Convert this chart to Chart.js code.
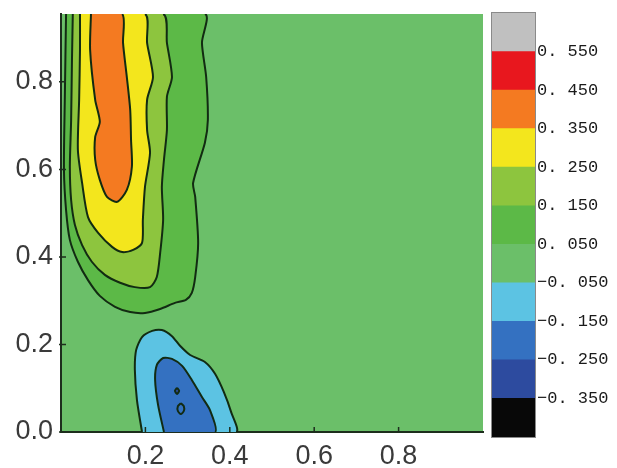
<!DOCTYPE html>
<html lang="en">
<head>
    <meta charset="UTF-8">
    <title>Contour map</title>
    <script src="https://cdn.jsdelivr.net/npm/chart.js"></script>
    <style>
        body { margin: 0; background: #fff; }
        #wrap { position: relative; width: 617px; height: 468px; }
        #mapChart { position: absolute; left: 0; top: 0; }
        #barChart { position: absolute; left: 488px; top: 0; }
    </style>
</head>
<body>
    <div id="wrap">
        <canvas id="mapChart" width="617" height="468"></canvas>
        <canvas id="barChart" width="129" height="468"></canvas>
    </div>

    <script>
        // Contour levels and the colour of each band (lowest band first)
        var levels = [-0.35, -0.25, -0.15, -0.05, 0.05, 0.15, 0.25, 0.35, 0.45, 0.55];
        var bandColors = ['#080808', '#2d4b9f', '#3471c1', '#5cc3e3', '#6bbf69', '#5cb947',
                          '#8dc53e', '#f3e61d', '#f47a21', '#e8171e', '#c0c0c0'];
        var xTicks = [0.2, 0.4, 0.6, 0.8];
        var yTicks = [0.0, 0.2, 0.4, 0.6, 0.8];

        // Closed contour lines, [x, y]
        var c005 = [[0.012, 0.955], [0.341, 0.955], [0.334, 0.889], [0.344, 0.811], [0.348, 0.713],
                    [0.341, 0.661], [0.313, 0.569], [0.318, 0.537], [0.325, 0.432], [0.318, 0.354],
                    [0.310, 0.318], [0.296, 0.302], [0.270, 0.295], [0.235, 0.281], [0.199, 0.272],
                    [0.164, 0.274], [0.128, 0.286], [0.092, 0.311], [0.064, 0.347], [0.040, 0.389],
                    [0.021, 0.439], [0.012, 0.507], [0.007, 0.599], [0.009, 0.759]];
        var c015 = [[0.028, 0.955], [0.242, 0.955], [0.251, 0.889], [0.263, 0.811], [0.251, 0.766],
                    [0.251, 0.690], [0.244, 0.622], [0.239, 0.560], [0.242, 0.485], [0.235, 0.409],
                    [0.227, 0.354], [0.211, 0.331], [0.175, 0.331], [0.140, 0.341], [0.104, 0.359],
                    [0.073, 0.389], [0.050, 0.427], [0.033, 0.473], [0.024, 0.530], [0.021, 0.606],
                    [0.024, 0.713], [0.026, 0.850]];
        var c025 = [[0.045, 0.955], [0.199, 0.955], [0.204, 0.889], [0.218, 0.811], [0.204, 0.759],
                    [0.204, 0.690], [0.211, 0.638], [0.199, 0.560], [0.194, 0.485], [0.192, 0.432],
                    [0.171, 0.416], [0.145, 0.411], [0.121, 0.423], [0.088, 0.455], [0.064, 0.491],
                    [0.050, 0.569], [0.040, 0.645], [0.043, 0.759], [0.045, 0.873]];
        var c035 = [[0.071, 0.955], [0.145, 0.955], [0.147, 0.889], [0.156, 0.811], [0.164, 0.736],
                    [0.166, 0.667], [0.168, 0.606], [0.156, 0.553], [0.133, 0.526], [0.109, 0.537],
                    [0.092, 0.576], [0.081, 0.622], [0.081, 0.674], [0.092, 0.709], [0.081, 0.759],
                    [0.069, 0.873]];
        var cm005 = [[0.192, 0.000], [0.180, 0.073], [0.175, 0.142], [0.178, 0.187], [0.192, 0.217],
                     [0.216, 0.231], [0.239, 0.233], [0.263, 0.219], [0.282, 0.197], [0.306, 0.176],
                     [0.341, 0.160], [0.365, 0.133], [0.386, 0.091], [0.403, 0.046], [0.415, 0.000]];
        var cm015 = [[0.244, 0.000], [0.230, 0.062], [0.223, 0.119], [0.227, 0.153], [0.242, 0.169],
                     [0.263, 0.167], [0.287, 0.151], [0.310, 0.119], [0.334, 0.080], [0.353, 0.050],
                     [0.365, 0.000]];
        var cm025a = [[0.275, 0.101], [0.280, 0.094], [0.275, 0.087], [0.270, 0.094]];
        var cm025b = [[0.284, 0.066], [0.291, 0.059], [0.291, 0.048], [0.284, 0.041], [0.277, 0.048],
                      [0.277, 0.059]];

        var X_MAX = 1.0, Y_MAX = 0.955;
        var lineColor = '#122b12';

        // segments lying on the frame are not stroked
        function onFrame(a, b) {
            return (a.y >= Y_MAX && b.y >= Y_MAX) || (a.y <= 0 && b.y <= 0) || (a.x <= 0 && b.x <= 0);
        }

        function contour(points, color, order) {
            var pts = points.map(function (p) { return { x: p[0], y: p[1] }; });
            pts.push(pts[0]);
            return {
                data: pts,
                showLine: true,
                fill: 'shape',
                backgroundColor: color,
                borderColor: lineColor,
                borderWidth: 2,
                pointRadius: 0,
                tension: 0.25,
                order: order,
                segment: {
                    borderColor: function (ctx) {
                        return onFrame(ctx.p0.parsed, ctx.p1.parsed) ? 'rgba(0,0,0,0)' : lineColor;
                    }
                }
            };
        }

        // band fill behind all contours
        var areaFill = {
            id: 'areaFill',
            beforeDraw: function (chart) {
                var a = chart.chartArea, ctx = chart.ctx;
                ctx.save();
                ctx.fillStyle = bandColors[4];
                ctx.fillRect(a.left, a.top, a.right - a.left, a.bottom - a.top);
                ctx.restore();
            }
        };

        // short tick marks pointing into the plot
        var innerTicks = {
            id: 'innerTicks',
            afterDraw: function (chart) {
                var ctx = chart.ctx, a = chart.chartArea;
                var sx = chart.scales.x, sy = chart.scales.y;
                ctx.save();
                ctx.strokeStyle = '#1d2e1d';
                ctx.lineWidth = 1.5;
                ctx.beginPath();
                xTicks.forEach(function (v) {
                    var px = sx.getPixelForValue(v);
                    ctx.moveTo(px, a.bottom); ctx.lineTo(px, a.bottom - 5);
                });
                yTicks.forEach(function (v) {
                    var py = sy.getPixelForValue(v);
                    ctx.moveTo(a.left - 2, py); ctx.lineTo(a.left + 5, py);
                });
                ctx.stroke();
                ctx.restore();
            }
        };

        function noPadding(s) {
            s.paddingTop = 0; s.paddingBottom = 0; s.paddingLeft = 0; s.paddingRight = 0;
        }

        var tickFont = { family: 'Liberation Sans', size: 27 };

        var mapChart = new Chart(document.getElementById('mapChart'), {
            type: 'scatter',
            data: {
                datasets: [
                    contour(c005, bandColors[5], 10),
                    contour(c015, bandColors[6], 9),
                    contour(c025, bandColors[7], 8),
                    contour(c035, bandColors[8], 7),
                    contour(cm005, bandColors[3], 6),
                    contour(cm015, bandColors[2], 5),
                    contour(cm025a, bandColors[1], 4),
                    contour(cm025b, bandColors[2], 3)
                ]
            },
            options: {
                responsive: false,
                animation: false,
                layout: { padding: { left: 0, top: 14, right: 134, bottom: 0 } },
                plugins: { legend: { display: false }, tooltip: { enabled: false } },
                scales: {
                    x: {
                        type: 'linear', min: 0, max: X_MAX,
                        afterBuildTicks: function (s) { s.ticks = xTicks.map(function (v) { return { value: v }; }); },
                        afterFit: function (s) { s.height = 36; noPadding(s); },
                        grid: { display: false },
                        border: { color: '#1d2e1d', width: 2 },
                        ticks: { font: tickFont, color: '#3a3a3a', padding: 0,
                                 callback: function (v) { return v.toFixed(1); } }
                    },
                    y: {
                        type: 'linear', min: 0, max: Y_MAX,
                        afterBuildTicks: function (s) { s.ticks = yTicks.map(function (v) { return { value: v }; }); },
                        afterFit: function (s) { s.width = 61; noPadding(s); },
                        grid: { display: false },
                        border: { color: '#1d2e1d', width: 2 },
                        ticks: { font: tickFont, color: '#3a3a3a', padding: 0,
                                 callback: function (v) { return v.toFixed(1); } }
                    }
                }
            },
            plugins: [areaFill, innerTicks]
        });

        // colour bar: one floating bar per band
        var bandData = bandColors.map(function (c, i) {
            var lo = i === 0 ? -0.45 : levels[i - 1];
            var hi = i === levels.length ? 0.65 : levels[i];
            return {
                data: [[lo, hi]],
                backgroundColor: c,
                borderWidth: 0,
                grouped: false,
                barPercentage: 1,
                categoryPercentage: 1
            };
        });

        var barFrame = {
            id: 'barFrame',
            afterDatasetsDraw: function (chart) {
                var a = chart.chartArea, ctx = chart.ctx;
                ctx.save();
                ctx.strokeStyle = '#8a8a8a';
                ctx.lineWidth = 1;
                ctx.strokeRect(a.left - 0.5, a.top - 0.5, a.right - a.left + 1, a.bottom - a.top + 1);
                ctx.restore();
            }
        };

        var barChart = new Chart(document.getElementById('barChart'), {
            type: 'bar',
            data: { labels: [''], datasets: bandData },
            options: {
                responsive: false,
                animation: false,
                layout: { padding: { left: 4, top: 13, right: 0, bottom: 31 } },
                plugins: { legend: { display: false }, tooltip: { enabled: false } },
                scales: {
                    x: { display: false },
                    y: {
                        position: 'right', min: -0.45, max: 0.65,
                        afterBuildTicks: function (s) { s.ticks = levels.map(function (v) { return { value: v }; }); },
                        afterFit: function (s) { s.width = 82; noPadding(s); },
                        grid: { display: false },
                        border: { display: false },
                        ticks: {
                            font: { family: 'Liberation Mono', size: 17 },
                            color: '#1a1a1a',
                            padding: -6,
                            callback: function (v) {
                                return (v < 0 ? '\u2212' : '') + Math.abs(v).toFixed(3).replace('.', '. ');
                            }
                        }
                    }
                }
            },
            plugins: [barFrame]
        });
    </script>
</body>
</html>
